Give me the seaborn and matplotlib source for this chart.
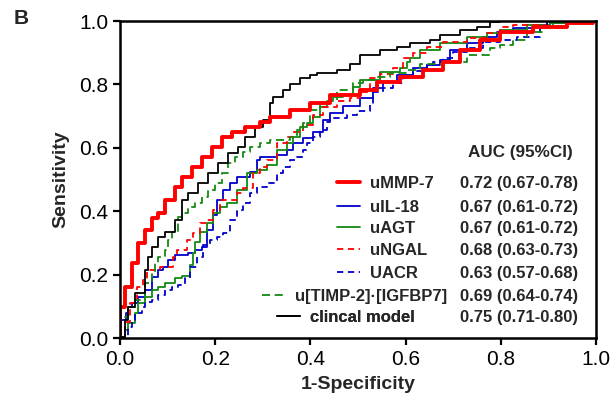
import pandas as pd
import seaborn as sns
import matplotlib.pyplot as plt
from matplotlib.lines import Line2D

sns.set_style('ticks')
plt.rcParams['font.family'] = ['Liberation Sans', 'DejaVu Sans']

# ROC curves (1-specificity, sensitivity)
mmp7_fpr = [0, 0, 0.011, 0.025, 0.038, 0.053, 0.067, 0.08, 0.095, 0.116, 0.13, 0.151, 0.172, 0.193, 0.214,
            0.235, 0.263, 0.294, 0.315, 0.357, 0.399, 0.441, 0.504, 0.54, 0.588, 0.637, 0.679, 0.714, 0.756,
            0.798, 0.868, 0.939, 0.994, 1]
mmp7_tpr = [0, 0.025, 0.098, 0.161, 0.237, 0.30, 0.34, 0.38, 0.394, 0.435, 0.476, 0.508, 0.539, 0.571, 0.603,
            0.634, 0.65, 0.666, 0.681, 0.697, 0.719, 0.741, 0.767, 0.782, 0.808, 0.823, 0.845, 0.871, 0.909,
            0.94, 0.965, 0.981, 0.994, 1]

il18_fpr = [0, 0, 0.013, 0.017, 0.025, 0.038, 0.053, 0.067, 0.08, 0.09, 0.1, 0.116, 0.12, 0.143, 0.158, 0.172,
            0.183, 0.195, 0.204, 0.216, 0.231, 0.246, 0.273, 0.288, 0.294, 0.33, 0.351, 0.363, 0.384, 0.405,
            0.426, 0.441, 0.468, 0.504, 0.532, 0.553, 0.582, 0.616, 0.645, 0.672, 0.693, 0.729, 0.763, 0.792,
            0.826, 0.868, 0.903, 0.96, 1]
il18_tpr = [0, 0.057, 0.057, 0.079, 0.098, 0.11, 0.129, 0.151, 0.192, 0.215, 0.224, 0.246, 0.262, 0.262, 0.268,
            0.278, 0.287, 0.341, 0.388, 0.435, 0.467, 0.489, 0.508, 0.524, 0.562, 0.571, 0.577, 0.593, 0.615,
            0.631, 0.65, 0.688, 0.71, 0.732, 0.757, 0.789, 0.808, 0.83, 0.852, 0.861, 0.877, 0.909, 0.931,
            0.95, 0.965, 0.978, 0.987, 0.994, 1]

agt_fpr = [0, 0.011, 0.017, 0.032, 0.038, 0.053, 0.067, 0.08, 0.095, 0.116, 0.13, 0.147, 0.153, 0.158, 0.168,
           0.183, 0.195, 0.21, 0.225, 0.246, 0.267, 0.288, 0.309, 0.33, 0.351, 0.363, 0.378, 0.393, 0.405,
           0.42, 0.435, 0.447, 0.468, 0.489, 0.504, 0.546, 0.588, 0.603, 0.609, 0.63, 0.672, 0.729, 0.771,
           0.798, 0.855, 0.903, 0.952, 1]
agt_tpr = [0, 0.003, 0.025, 0.047, 0.079, 0.11, 0.129, 0.151, 0.161, 0.174, 0.189, 0.196, 0.23, 0.268, 0.303,
           0.334, 0.363, 0.394, 0.413, 0.426, 0.467, 0.52, 0.53, 0.546, 0.593, 0.615, 0.634, 0.666, 0.678,
           0.697, 0.729, 0.748, 0.76, 0.767, 0.792, 0.814, 0.839, 0.852, 0.871, 0.883, 0.909, 0.931, 0.95,
           0.962, 0.972, 0.987, 0.994, 1]

ngal_fpr = [0, 0.01, 0.02, 0.035, 0.048, 0.057, 0.084, 0.111, 0.12, 0.141, 0.153, 0.168, 0.183, 0.195, 0.21,
            0.246, 0.258, 0.279, 0.294, 0.309, 0.33, 0.351, 0.363, 0.384, 0.405, 0.426, 0.456, 0.483, 0.504,
            0.525, 0.546, 0.574, 0.595, 0.616, 0.645, 0.679, 0.729, 0.771, 0.798, 0.826, 0.897, 0.973, 1]
ngal_tpr = [0, 0.02, 0.05, 0.11, 0.161, 0.183, 0.215, 0.224, 0.256, 0.278, 0.309, 0.331, 0.363, 0.372, 0.404,
            0.435, 0.457, 0.473, 0.52, 0.539, 0.562, 0.615, 0.634, 0.65, 0.672, 0.703, 0.729, 0.748, 0.757,
            0.776, 0.82, 0.833, 0.852, 0.883, 0.899, 0.918, 0.934, 0.946, 0.962, 0.981, 0.987, 0.994, 1]

uacr_fpr = [0, 0.017, 0.025, 0.032, 0.046, 0.053, 0.067, 0.08, 0.095, 0.109, 0.122, 0.137, 0.147, 0.162, 0.174,
            0.189, 0.204, 0.216, 0.231, 0.246, 0.258, 0.273, 0.288, 0.309, 0.33, 0.342, 0.357, 0.372, 0.384,
            0.393, 0.405, 0.42, 0.435, 0.441, 0.477, 0.498, 0.525, 0.532, 0.553, 0.574, 0.595, 0.616, 0.645,
            0.658, 0.679, 0.7, 0.729, 0.763, 0.798, 0.834, 0.882, 0.897, 0.966, 1]
uacr_tpr = [0, 0.003, 0.035, 0.057, 0.079, 0.098, 0.114, 0.12, 0.136, 0.151, 0.161, 0.167, 0.189, 0.224, 0.256,
            0.293, 0.309, 0.319, 0.331, 0.372, 0.404, 0.426, 0.457, 0.476, 0.489, 0.52, 0.539, 0.562, 0.571,
            0.593, 0.615, 0.634, 0.656, 0.681, 0.694, 0.703, 0.716, 0.735, 0.776, 0.789, 0.804, 0.82, 0.842,
            0.861, 0.871, 0.883, 0.902, 0.915, 0.934, 0.94, 0.95, 0.978, 0.994, 1]

timp_fpr = [0, 0.002, 0.017, 0.032, 0.053, 0.067, 0.074, 0.08, 0.095, 0.1, 0.109, 0.122, 0.13, 0.143, 0.158,
            0.172, 0.185, 0.2, 0.214, 0.227, 0.242, 0.258, 0.273, 0.294, 0.315, 0.357, 0.372, 0.384, 0.399,
            0.42, 0.441, 0.456, 0.489, 0.51, 0.54, 0.567, 0.603, 0.63, 0.679, 0.729, 0.75, 0.777, 0.798,
            0.826, 0.855, 0.889, 0.91, 0.952, 1]
timp_tpr = [0, 0.025, 0.066, 0.098, 0.12, 0.174, 0.205, 0.237, 0.256, 0.278, 0.309, 0.334, 0.382, 0.394, 0.413,
            0.426, 0.445, 0.467, 0.489, 0.52, 0.552, 0.571, 0.587, 0.603, 0.615, 0.625, 0.634, 0.656, 0.678,
            0.719, 0.741, 0.751, 0.782, 0.804, 0.814, 0.823, 0.836, 0.845, 0.864, 0.871, 0.893, 0.893, 0.915,
            0.924, 0.94, 0.965, 0.981, 0.994, 1]

clin_fpr = [0, 0.011, 0.017, 0.032, 0.053, 0.059, 0.067, 0.08, 0.095, 0.116, 0.13, 0.143, 0.164, 0.185, 0.206,
            0.227, 0.248, 0.263, 0.284, 0.3, 0.315, 0.321, 0.342, 0.357, 0.378, 0.399, 0.414, 0.456, 0.483,
            0.504, 0.546, 0.582, 0.609, 0.651, 0.672, 0.714, 0.75, 0.777, 0.798, 1]
clin_tpr = [0, 0.003, 0.057, 0.098, 0.142, 0.215, 0.256, 0.287, 0.319, 0.334, 0.372, 0.435, 0.457, 0.489, 0.52,
            0.552, 0.584, 0.603, 0.634, 0.666, 0.688, 0.741, 0.76, 0.782, 0.801, 0.82, 0.83, 0.836, 0.845,
            0.864, 0.893, 0.909, 0.918, 0.931, 0.94, 0.956, 0.972, 0.981, 0.997, 1]

names = ['uMMP-7', 'uIL-18', 'uAGT', 'uNGAL', 'UACR', 'u[TIMP-2]\u00b7[IGFBP7]', 'clincal model']
aucs = ['0.72 (0.67-0.78)', '0.67 (0.61-0.72)', '0.67 (0.61-0.72)', '0.68 (0.63-0.73)',
        '0.63 (0.57-0.68)', '0.69 (0.64-0.74)', '0.75 (0.71-0.80)']
curves = [(mmp7_fpr, mmp7_tpr), (il18_fpr, il18_tpr), (agt_fpr, agt_tpr), (ngal_fpr, ngal_tpr),
          (uacr_fpr, uacr_tpr), (timp_fpr, timp_tpr), (clin_fpr, clin_tpr)]

styles = {
    'uMMP-7': dict(color='#ff0000', lw=2.8, ls='-'),
    'uIL-18': dict(color='#0000cc', lw=1.3, ls='-'),
    'uAGT': dict(color='#138a13', lw=1.3, ls='-'),
    'uNGAL': dict(color='#ff0000', lw=1.3, ls=(0, (3.5, 2.5))),
    'UACR': dict(color='#0000cc', lw=1.3, ls=(0, (3.5, 2.5))),
    'u[TIMP-2]\u00b7[IGFBP7]': dict(color='#138a13', lw=1.3, ls=(0, (4.5, 2.5))),
    'clincal model': dict(color='black', lw=1.3, ls='-'),
}

# legend row layout (axes fraction): key start x, row centre y
key_x = [0.456, 0.456, 0.456, 0.456, 0.456, 0.298, 0.330]
row_y = [0.489, 0.413, 0.347, 0.278, 0.205, 0.132, 0.066]

df = pd.concat([pd.DataFrame({'fpr': f, 'tpr': t, 'marker': n})
                for n, (f, t) in zip(names, curves)], ignore_index=True)

fig, ax = plt.subplots(figsize=(6.13, 4.05), dpi=100)
fig.subplots_adjust(left=0.196, right=0.972, bottom=0.165, top=0.948)

# draw the thick red one last so it sits on top
order = names[1:] + names[:1]
for n in order:
    st = styles[n]
    sns.lineplot(data=df[df.marker == n], x='fpr', y='tpr', sort=False, estimator=None,
                 color=st['color'], linewidth=st['lw'], linestyle=st['ls'],
                 drawstyle='steps-pre', ax=ax)

ax.set_xlim(0, 1)
ax.set_ylim(0, 1)
ax.set_xticks([0, 0.2, 0.4, 0.6, 0.8, 1.0])
ax.set_yticks([0, 0.2, 0.4, 0.6, 0.8, 1.0])
ax.set_xticklabels(['0.0', '0.2', '0.4', '0.6', '0.8', '1.0'])
ax.set_yticklabels(['0.0', '0.2', '0.4', '0.6', '0.8', '1.0'])
ax.tick_params(labelsize=15, width=1.6, length=5, color='black', labelcolor='black')
for s in ax.spines.values():
    s.set_linewidth(1.8)
    s.set_color('black')
ax.set_xlabel('1-Specificity', fontsize=14, fontweight='bold', labelpad=5)
ax.set_ylabel('Sensitivity', fontsize=14, fontweight='bold', labelpad=7)

# one small legend per row, GraphPad style
for n, auc, x, y in zip(names, aucs, key_x, row_y):
    st = styles[n]
    key = Line2D([], [], color=st['color'], lw=st['lw'], ls=st['ls'])
    leg = ax.legend([key], [n], loc='center left', bbox_to_anchor=(x, y), frameon=False,
                    prop={'weight': 'bold', 'size': 12}, handlelength=1.4, handletextpad=0.6,
                    borderpad=0, borderaxespad=0)
    ax.add_artist(leg)
    ax.text(0.714, y, auc, transform=ax.transAxes, ha='left', va='center',
            fontsize=12, fontweight='bold')
ax.text(0.842, 0.584, 'AUC (95%CI)', transform=ax.transAxes, ha='center', va='center',
        fontsize=12.3, fontweight='bold')

fig.text(0.022, 0.955, 'B', fontsize=15, fontweight='bold', ha='left', va='center')

plt.savefig('out.png', dpi=100)
